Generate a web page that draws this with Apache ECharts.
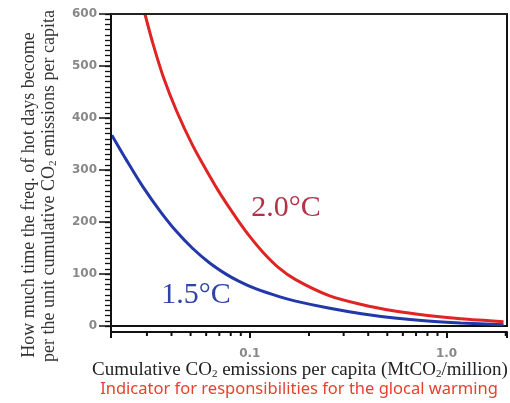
<!DOCTYPE html>
<html>
<head>
<meta charset="utf-8">
<script src="https://cdn.jsdelivr.net/npm/echarts@6/dist/echarts.min.js"></script>
<style>html,body{margin:0;padding:0;background:#fff}#c{width:510px;height:403px}</style>
</head>
<body>
<div id="c"></div>
<script>
// Data (x: cumulative CO2 per capita, log scale; y: value)
var xBlue = [0.0199, 0.0237, 0.0287, 0.0349, 0.0423, 0.0513, 0.0623, 0.0757, 0.0883, 0.107, 0.141, 0.171, 0.251, 0.370, 0.545, 0.802, 1.18, 1.95];
var yBlue = [367, 318, 267, 221.5, 182, 149, 121.7, 99.8, 85.8, 71.7, 56.5, 47.9, 34.6, 23.7, 15.4, 9.6, 5.8, 2.3];
var xRed  = [0.0293, 0.0323, 0.0362, 0.0424, 0.0513, 0.0624, 0.0700, 0.0787, 0.0883, 0.0992, 0.116, 0.140, 0.171, 0.251, 0.370, 0.545, 0.802, 1.18, 1.95];
var yRed  = [600, 541, 481, 414, 347, 289, 257, 227.5, 199.6, 173.7, 142.9, 112.3, 89.2, 59, 41.3, 28.8, 20.2, 13.8, 8.3];
var xMinorTicks = [0.03, 0.04, 0.05, 0.06, 0.07, 0.08, 0.09, 0.2, 0.3, 0.4, 0.5, 0.6, 0.7, 0.8, 0.9, 2];
var xTickLabels = {'0.1': '0.1', '1': '1.0'};
var yTicks = [0, 100, 200, 300, 400, 500, 600];
var yMinorStep = 10;

function pairs(xs, ys) { return xs.map(function (x, i) { return [x, ys[i]]; }); }

var X_MIN = 0.0197, X_MAX = 2.03;
var chart = echarts.init(document.getElementById('c'), null, {renderer: 'canvas'});
var labelFont = 'DejaVu Sans';
var serif = 'Liberation Serif';
chart.setOption({
  animation: false,
  backgroundColor: '#fff',
  grid: {left: 111, top: 14, right: 0, bottom: 77, containLabel: false,
    show: true, borderColor: '#111', borderWidth: 2, backgroundColor: 'transparent'},
  xAxis: [{
    type: 'log', logBase: 10, min: X_MIN, max: X_MAX, offset: 6, position: 'bottom', z: 5,
    axisLine: {show: true, onZero: false, lineStyle: {color: '#111', width: 2}},
    axisTick: {show: true, inside: false, length: 6, lineStyle: {color: '#111', width: 2}},
    minorTick: {show: false},
    splitLine: {show: false},
    axisLabel: {
      margin: 16, color: '#888', fontSize: 12, fontWeight: 'bold', fontFamily: labelFont,
      formatter: function (v) {
        for (var k in xTickLabels) { if (Math.abs(v - parseFloat(k)) < 1e-6) return xTickLabels[k]; }
        return '';
      }
    }
  }, {
    type: 'log', logBase: 10, min: X_MIN, max: X_MAX, position: 'top', z: 5,
    axisLine: {show: true, onZero: false, lineStyle: {color: '#222', width: 2}},
    axisTick: {show: false}, axisLabel: {show: false}, splitLine: {show: false}
  }],
  yAxis: [{
    type: 'value', min: 0, max: 600, interval: 100, position: 'left', z: 5,
    axisLine: {show: true, onZero: false, lineStyle: {color: '#111', width: 2}},
    axisTick: {show: true, inside: false, length: 12, lineStyle: {color: '#111', width: 1.5}},
    minorTick: {show: false},
    splitLine: {show: false},
    axisLabel: {
      margin: 14, color: '#888', fontSize: 12, fontWeight: 'bold', fontFamily: labelFont,
      formatter: function (v) { return yTicks.indexOf(v) >= 0 ? String(v) : ''; }
    }
  }, {
    type: 'value', min: 0, max: 600, interval: yMinorStep, position: 'left', offset: 0, z: 5,
    axisLine: {show: false, onZero: false},
    axisTick: {show: true, inside: false, length: 6, lineStyle: {color: '#111', width: 1.3}},
    axisLabel: {show: false},
    splitLine: {show: false}
  }],
  graphic: [
    {type: 'line', shape: {x1: 111, y1: 325, x2: 111, y2: 336}, style: {stroke: '#111', lineWidth: 2}, z: 10},
    {type: 'text', x: 29, y: 195, rotation: Math.PI / 2,
      style: {text: 'How much time the freq. of hot days become', font: '18px "Liberation Serif"', fill: '#333', align: 'center', verticalAlign: 'middle'}},
    {type: 'text', x: 49, y: 186, rotation: Math.PI / 2,
      style: {text: 'per the unit cumulative CO{sub|2} emissions per capita', font: '18px "Liberation Serif"', fill: '#333', align: 'center', verticalAlign: 'middle',
        rich: {sub: {fontSize: 11, fontFamily: serif, fill: '#333', padding: [9, 0, 0, 0]}}}},
    {type: 'text', x: 300, y: 370,
      style: {text: 'Cumulative CO{sub|2} emissions per capita (MtCO{sub|2}/million)', font: '19px "Liberation Serif"', fill: '#222', align: 'center', verticalAlign: 'middle',
        rich: {sub: {fontSize: 11, fontFamily: serif, fill: '#222', padding: [9, 0, 0, 0]}}}},
    {type: 'text', x: 299, y: 389,
      style: {text: 'Indicator for responsibilities for the glocal warming', font: '16.5px "Noto Sans"', fill: '#e8402e', align: 'center', verticalAlign: 'middle'}},
    {type: 'text', x: 286, y: 208,
      style: {text: '2.0°C', font: '30px "Liberation Serif"', fill: '#b23246', align: 'center', verticalAlign: 'middle'}},
    {type: 'text', x: 196, y: 295,
      style: {text: '1.5°C', font: '30px "Liberation Serif"', fill: '#2f44a6', align: 'center', verticalAlign: 'middle'}}
  ],
  series: [
    {type: 'line', name: '1.5°C', data: pairs(xBlue, yBlue), smooth: 0.3, showSymbol: false, clip: true,
      lineStyle: {color: '#2238a8', width: 3}},
    {type: 'line', name: '2.0°C', data: pairs(xRed, yRed), smooth: 0.3, showSymbol: false, clip: true,
      lineStyle: {color: '#e02424', width: 3}},
    {type: 'custom', name: 'xMinorTicks', data: xMinorTicks.map(function (v) { return [v, 0]; }), clip: false, silent: true,
      renderItem: function (params, api) {
        var p = api.coord([api.value(0), 0]);
        return {type: 'line', shape: {x1: p[0], y1: p[1] + 6, x2: p[0], y2: p[1] + 10}, style: {stroke: '#111', lineWidth: 2}};
      }}
  ]
});
</script>
</body>
</html>
